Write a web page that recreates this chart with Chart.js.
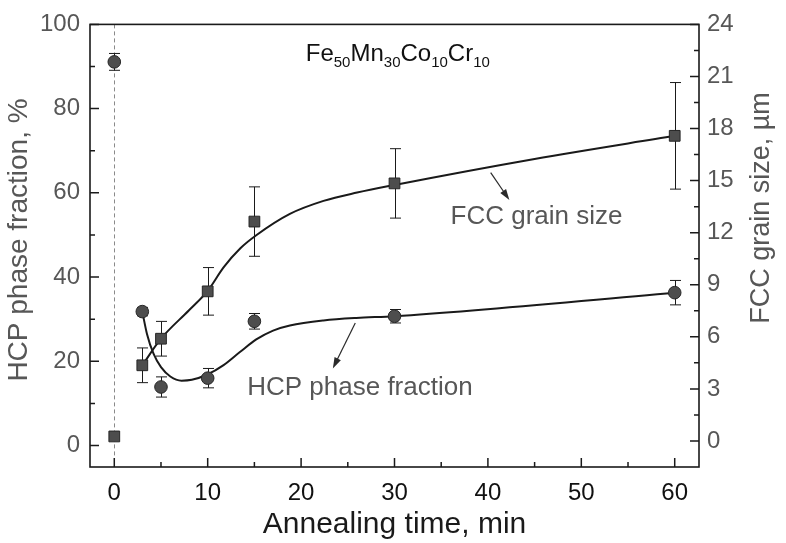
<!DOCTYPE html>
<html>
<head>
<meta charset="utf-8">
<script src="https://cdn.jsdelivr.net/npm/chart.js@4/dist/chart.umd.min.js"></script>
<style>
  html, body { margin: 0; padding: 0; background: #fff; }
  #wrap { width: 786px; height: 543px; position: relative; }
</style>
</head>
<body>
<div id="wrap"><canvas id="chart"></canvas></div>
<script>
// measured points (annealing time, min)
const hcpTime = [0, 3, 5, 10, 15, 30, 60];
const hcpFraction = [91.1, 31.8, 13.9, 16.0, 29.5, 30.7, 36.3];
const hcpError = [2.0, 1.0, 2.4, 2.3, 1.85, 1.6, 2.9];

const fccTime = [0, 3, 5, 10, 15, 30, 60];
const fccSize = [0.26, 4.36, 5.89, 8.62, 12.64, 14.84, 17.58];
const fccError = [0, 1.0, 1.0, 1.37, 2.0, 2.0, 3.07];

// fitted guide curves
const hcpFitTime = [3, 3.5, 4.2, 5, 6, 7.2, 8.3, 9.9, 11.7, 13.45, 15.2, 17, 18.8, 22.4, 25.9, 30, 60];
const hcpFitValue = [31.8, 26.5, 21.8, 18.6, 16.4, 15.4, 15.6, 16.8, 19.1, 22.2, 25.2, 27.3, 28.5, 29.7, 30.3, 30.7, 36.3];
const fccFitTime = [3, 5, 8, 10, 11.7, 13.5, 15.2, 18.8, 22.4, 26, 30, 45, 60];
const fccFitValue = [4.36, 5.89, 7.53, 8.65, 10.0, 11.1, 11.85, 13.08, 13.83, 14.31, 14.75, 16.25, 17.58];

const xTicks = [0, 10, 20, 30, 40, 50, 60];
const hcpTicks = [0, 20, 40, 60, 80, 100];
const fccTicks = [0, 3, 6, 9, 12, 15, 18, 21, 24];

const FONT = "'Liberation Sans', Arial, sans-serif";
const GREY = '#575757';
const INK = '#1a1a1a';

const pts = (xs, ys) => xs.map((x, i) => ({ x: x, y: ys[i] }));

function drawErrorBars(ctx, xs, ys, errs, xScale, yScale) {
    ctx.save();
    ctx.strokeStyle = INK;
    ctx.lineWidth = 1;
    xs.forEach((x, i) => {
        if (!errs[i]) return;
        const px = Math.round(xScale.getPixelForValue(x)) + 0.5;
        const top = yScale.getPixelForValue(ys[i] + errs[i]);
        const bot = yScale.getPixelForValue(ys[i] - errs[i]);
        ctx.beginPath();
        ctx.moveTo(px, top); ctx.lineTo(px, bot);
        ctx.moveTo(px - 5.5, top); ctx.lineTo(px + 5.5, top);
        ctx.moveTo(px - 5.5, bot); ctx.lineTo(px + 5.5, bot);
        ctx.stroke();
    });
    ctx.restore();
}

function arrow(ctx, x1, y1, x2, y2) {
    const a = Math.atan2(y2 - y1, x2 - x1);
    const len = 11, hw = 3.5;
    ctx.beginPath();
    ctx.moveTo(x1, y1);
    ctx.lineTo(x2 - Math.cos(a) * len * 0.8, y2 - Math.sin(a) * len * 0.8);
    ctx.stroke();
    ctx.beginPath();
    ctx.moveTo(x2, y2);
    ctx.lineTo(x2 - Math.cos(a) * len + Math.sin(a) * hw, y2 - Math.sin(a) * len - Math.cos(a) * hw);
    ctx.lineTo(x2 - Math.cos(a) * len - Math.sin(a) * hw, y2 - Math.sin(a) * len + Math.cos(a) * hw);
    ctx.closePath();
    ctx.fill();
}

const decorations = {
    id: 'decorations',
    beforeDatasetsDraw(chart) {
        const { ctx, chartArea, scales } = chart;
        // dashed line at t = 0
        const x0 = Math.round(scales.x.getPixelForValue(0)) + 0.5;
        ctx.save();
        ctx.strokeStyle = '#8a8a8a';
        ctx.lineWidth = 1;
        ctx.setLineDash([4, 3]);
        ctx.beginPath();
        ctx.moveTo(x0, chartArea.top);
        ctx.lineTo(x0, chartArea.bottom);
        ctx.stroke();
        ctx.restore();

        drawErrorBars(ctx, hcpTime, hcpFraction, hcpError, scales.x, scales.y);
        drawErrorBars(ctx, fccTime, fccSize, fccError, scales.x, scales.y1);
    },
    afterDraw(chart) {
        const { ctx, chartArea, scales } = chart;
        const { x, y, y1 } = scales;
        ctx.save();

        // frame
        ctx.strokeStyle = INK;
        ctx.lineWidth = 1.6;
        ctx.strokeRect(chartArea.left, chartArea.top, chartArea.right - chartArea.left, chartArea.bottom - chartArea.top);

        // inward ticks
        ctx.lineWidth = 1.5;
        ctx.beginPath();
        xTicks.forEach((v, i) => {
            const p = x.getPixelForValue(v);
            ctx.moveTo(p, chartArea.bottom); ctx.lineTo(p, chartArea.bottom - 9);
            if (i < xTicks.length - 1) {
                const m = x.getPixelForValue(v + 5);
                ctx.moveTo(m, chartArea.bottom); ctx.lineTo(m, chartArea.bottom - 5);
            }
        });
        hcpTicks.forEach((v, i) => {
            const p = y.getPixelForValue(v);
            ctx.moveTo(chartArea.left, p); ctx.lineTo(chartArea.left + 9, p);
            if (i < hcpTicks.length - 1) {
                const m = y.getPixelForValue(v + 10);
                ctx.moveTo(chartArea.left, m); ctx.lineTo(chartArea.left + 5, m);
            }
        });
        fccTicks.forEach((v, i) => {
            const p = y1.getPixelForValue(v);
            ctx.moveTo(chartArea.right, p); ctx.lineTo(chartArea.right - 9, p);
            if (i < fccTicks.length - 1) {
                const m = y1.getPixelForValue(v + 1.5);
                ctx.moveTo(chartArea.right, m); ctx.lineTo(chartArea.right - 5, m);
            }
        });
        ctx.stroke();

        // axis titles
        ctx.fillStyle = INK;
        ctx.textAlign = 'center';
        ctx.textBaseline = 'alphabetic';
        ctx.font = '30px ' + FONT;
        ctx.fillText('Annealing time, min', (chartArea.left + chartArea.right) / 2 - 0, 533);

        ctx.fillStyle = GREY;
        ctx.font = '28px ' + FONT;
        ctx.save();
        ctx.translate(27, 240);
        ctx.rotate(-Math.PI / 2);
        ctx.fillText('HCP phase fraction, %', 0, 0);
        ctx.restore();

        ctx.font = '27px ' + FONT;
        ctx.save();
        ctx.translate(769, 208);
        ctx.rotate(-Math.PI / 2);
        ctx.fillText('FCC grain size, µm', 0, 0);
        ctx.restore();

        // series labels
        ctx.font = '26px ' + FONT;
        ctx.fillText('FCC grain size', x.getPixelForValue(45.2), y.getPixelForValue(52.6));
        ctx.fillText('HCP phase fraction', x.getPixelForValue(26.3), y.getPixelForValue(12.1));

        // arrows
        ctx.strokeStyle = '#2a2a2a';
        ctx.fillStyle = '#2a2a2a';
        ctx.lineWidth = 1.2;
        arrow(ctx, x.getPixelForValue(40.3), y.getPixelForValue(64.8), x.getPixelForValue(42.3), y.getPixelForValue(58.3));
        arrow(ctx, x.getPixelForValue(25.8), y.getPixelForValue(29.1), x.getPixelForValue(23.4), y.getPixelForValue(18.3));

        // alloy formula with subscripts
        const parts = [['Fe', '50'], ['Mn', '30'], ['Co', '10'], ['Cr', '10']];
        let fx = x.getPixelForValue(20.5);
        const fy = y.getPixelForValue(91.2);
        ctx.fillStyle = '#111';
        ctx.textAlign = 'left';
        parts.forEach(([el, n]) => {
            ctx.font = '24px ' + FONT;
            ctx.fillText(el, fx, fy);
            fx += ctx.measureText(el).width;
            ctx.font = '15px ' + FONT;
            ctx.fillText(n, fx, fy + 6);
            fx += ctx.measureText(n).width;
        });

        ctx.restore();
    }
};

new Chart(document.getElementById('chart'), {
    type: 'line',
    data: {
        datasets: [
            {
                label: 'HCP phase fraction',
                data: pts(hcpTime, hcpFraction),
                yAxisID: 'y',
                showLine: false,
                pointStyle: 'circle',
                pointRadius: 6.3,
                pointBackgroundColor: '#4d4d4d',
                pointBorderColor: '#262626',
                pointBorderWidth: 1
            },
            {
                label: 'FCC grain size',
                data: pts(fccTime, fccSize),
                yAxisID: 'y1',
                showLine: false,
                pointStyle: 'rect',
                pointRadius: 7.6,
                pointBackgroundColor: '#4d4d4d',
                pointBorderColor: '#262626',
                pointBorderWidth: 1
            },
            {
                label: 'HCP fit',
                data: pts(hcpFitTime, hcpFitValue),
                yAxisID: 'y',
                borderColor: INK,
                borderWidth: 2,
                pointRadius: 0,
                cubicInterpolationMode: 'monotone'
            },
            {
                label: 'FCC fit',
                data: pts(fccFitTime, fccFitValue),
                yAxisID: 'y1',
                borderColor: INK,
                borderWidth: 2,
                pointRadius: 0,
                cubicInterpolationMode: 'monotone'
            }
        ]
    },
    options: {
        responsive: true,
        maintainAspectRatio: false,
        animation: false,
        layout: { padding: { top: 17, left: 0, right: 0, bottom: 0 } },
        plugins: {
            legend: { display: false },
            tooltip: { enabled: false }
        },
        scales: {
            x: {
                type: 'linear',
                min: -2.6,
                max: 62.6,
                afterFit: s => { s.height = 76; },
                grid: { display: false, drawTicks: false },
                border: { display: false },
                ticks: {
                    stepSize: 10,
                    includeBounds: false,
                    padding: 12,
                    color: '#111',
                    font: { family: FONT, size: 24 }
                }
            },
            y: {
                position: 'left',
                min: -5.1,
                max: 100,
                afterFit: s => { s.width = 90; },
                grid: { display: false, drawTicks: false },
                border: { display: false },
                ticks: {
                    stepSize: 20,
                    includeBounds: false,
                    padding: 10,
                    color: GREY,
                    font: { family: FONT, size: 24 }
                }
            },
            y1: {
                position: 'right',
                min: -1.5,
                max: 24,
                afterFit: s => { s.width = 87; },
                grid: { display: false, drawTicks: false },
                border: { display: false },
                ticks: {
                    stepSize: 3,
                    includeBounds: false,
                    padding: 8,
                    color: GREY,
                    font: { family: FONT, size: 24 }
                }
            }
        }
    },
    plugins: [decorations]
});
</script>
</body>
</html>
